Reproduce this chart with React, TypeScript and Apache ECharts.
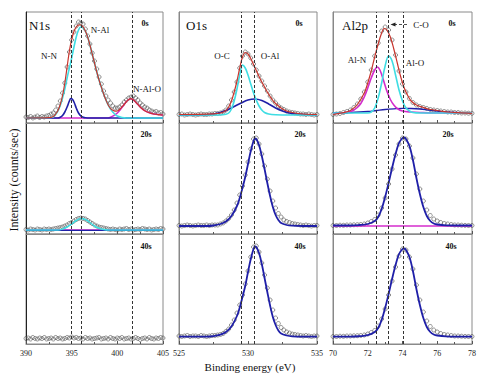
import React, { useEffect, useRef } from "react";
import * as echarts from "echarts";

// ---------- data (binding energy in eV, intensity in arbitrary units) ----------
const N_X = [390,390.25,390.5,390.75,391,391.25,391.5,391.75,392,392.25,392.5,392.75,393,393.25,393.5,393.75,394,394.25,394.5,394.75,395,395.25,395.5,395.75,396,396.25,396.5,396.75,397,397.25,397.5,397.75,398,398.25,398.5,398.75,399,399.25,399.5,399.75,400,400.25,400.5,400.75,401,401.25,401.5,401.75,402,402.25,402.5,402.75,403,403.25,403.5,403.75,404,404.25,404.5,404.75,405];
const O_X = [525,525.2,525.4,525.6,525.8,526,526.2,526.4,526.6,526.8,527,527.2,527.4,527.6,527.8,528,528.2,528.4,528.6,528.8,529,529.2,529.4,529.6,529.8,530,530.2,530.4,530.6,530.8,531,531.2,531.4,531.6,531.8,532,532.2,532.4,532.6,532.8,533,533.2,533.4,533.6,533.8,534,534.2,534.4,534.6,534.8,535];
const AL_X = [70,70.2,70.4,70.6,70.8,71,71.2,71.4,71.6,71.8,72,72.2,72.4,72.6,72.8,73,73.2,73.4,73.6,73.8,74,74.2,74.4,74.6,74.8,75,75.2,75.4,75.6,75.8,76,76.2,76.4,76.6,76.8,77,77.2,77.4,77.6,77.8,78];

const N_REF = [394.9, 396.1, 401.6];
const O_REF = [529.5, 530.45];
const AL_REF = [72.5, 73.2, 74.05];

// N1s 0s
const N0_PTS = [6,5.5,6.5,5,6,7,5.5,6.5,6,7,7.5,9,10,13,17,22,30,40,56,71,83,91,97,101,100,99,94,87,79,70,62,54,46,39,32,27,23,20,17,15,15,16,18,21,23,25,26,27,25,23,20,18,16,15,13,12,11,11.5,10,10.5,9];
const N0_NAL = [[390,5],[392.5,5.2],[393,6],[393.25,8.5],[393.5,12],[393.75,17.5],[394,25],[394.25,34],[394.5,45],[394.75,55],[395,65],[395.25,76],[395.5,86],[395.75,93],[396,96],[396.25,95],[396.5,92],[396.75,86],[397,78],[397.25,69],[397.5,60],[397.75,51],[398,43],[398.25,36],[398.5,29],[398.75,23],[399,18],[399.25,14],[399.5,11],[399.75,8.5],[400,7],[400.5,5.5],[401,5],[405,5]];
const N0_NN = [[390,5],[393.5,5],[393.75,5.8],[394,7.5],[394.25,11],[394.5,16],[394.75,22],[394.9,24.5],[395.1,23.5],[395.3,20],[395.5,15],[395.75,10],[396,7],[396.25,5.8],[396.5,5.2],[397,5],[405,5]];
const N0_NALO = [[390,5],[399,5],[399.25,5.7],[399.5,6.8],[399.75,8.3],[400,10],[400.25,12.5],[400.5,15.5],[400.75,18.5],[401,21.5],[401.25,23.5],[401.45,24.3],[401.7,23.5],[402,21],[402.25,18.5],[402.5,16],[402.75,14],[403,12.3],[403.5,10.2],[404,9],[404.5,8.4],[405,8]];
const N0_ENV = [[390,5],[392.5,5.3],[393,6.5],[393.25,9],[393.5,12.5],[393.75,18.5],[394,27.5],[394.25,40],[394.5,56],[394.75,72],[395,83.5],[395.25,91.5],[395.5,96],[395.75,98],[396,98],[396.25,96],[396.5,92],[396.75,86],[397,78],[397.25,69],[397.5,60],[397.75,51],[398,43],[398.25,36],[398.5,29],[398.75,23],[399,18],[399.25,14.7],[399.5,12.8],[399.75,11.8],[400,12],[400.25,13.5],[400.5,16],[400.75,18.5],[401,21.5],[401.25,23.5],[401.45,24.3],[401.7,23.5],[402,21],[402.5,16],[403,12.3],[403.5,10.2],[404,9],[404.5,8.4],[405,8]];

// N1s 20s
const N20_PTS = [4.5,4,5,4.5,4,5,4.5,4,5,4.5,5,4.5,5,5.5,6,6.5,7,8,9,10.5,11.5,13,14.5,15.5,16,15.5,15,13.5,12,10.5,9,8,7,6.5,6,5.5,5,4.5,5,4.5,4,5,4.5,5,5.5,4.5,5,4,4.5,5,4.5,5.5,5,4.5,5,4,4.5,5,4.5,5.5,5];
const N20_NAL = [[390,4],[393.5,4],[394,5],[394.5,7],[395,10],[395.5,13.5],[396,15.5],[396.5,14.5],[397,11.5],[397.5,8],[398,5.8],[398.5,4.6],[399,4.1],[405,4]];
const N20_MAG = [[390,4.2],[405,4.2]];
const N20_BLUE = [[390,3.6],[405,3.6]];

// N1s 40s
const N40_PTS = [5.5,6,5,6.5,5.5,5,6,5.5,6.5,5,5.5,6,5,6.5,5.5,6,5,5.5,6.5,6,7,6,6.5,5.5,6,5,6.5,5.5,6,5,5.5,6,6.5,5,5.5,6,5,6.5,5.5,5,6,5.5,6.5,5,5.5,6,5,5.5,6.5,5.5,4.5,5.5,6,5,6.5,5.5,5,6,5.5,6.5,6];

// O1s 0s
const O0_PTS = [8.5,9,8,8.5,9,8.5,8,8.5,9,8.5,8.5,9,9,9.5,9.5,10,11,13,17,23,31,41,55,67,71,69,65,59,53,47,42,37,32,27,23,20,17,15,13.5,12,11,10.5,10,9.5,9,9,8.5,9,8.5,8,8.5];
const O0_OC = [[525,8],[528,8],[528.4,8.8],[528.6,10],[528.8,14],[529,22],[529.2,34],[529.4,48],[529.6,58],[529.8,55],[530,48],[530.2,39],[530.4,30],[530.6,23],[530.8,17],[531,13],[531.2,10.5],[531.5,9],[532,8.3],[533,8],[535,8]];
const O0_OAL = [[525,8],[527,8.3],[527.5,9],[528,10.5],[528.5,13],[529,16.5],[529.5,20],[530,23],[530.5,24],[531,22.5],[531.5,19],[532,15],[532.5,12],[533,10],[533.5,9],[534,8.5],[535,8]];
const O0_ENV = [[525,8.5],[527.5,9.2],[528,10],[528.4,12.5],[528.6,16],[528.8,22],[529,31],[529.2,42],[529.4,55],[529.6,66],[529.8,70.5],[530,69],[530.2,64.5],[530.4,58.5],[530.6,52.5],[530.8,46.5],[531,41],[531.2,36],[531.4,31],[531.6,26.5],[531.8,22.5],[532,19.5],[532.4,15],[532.8,12],[533.2,10.5],[533.6,9.5],[534,9],[535,8.5]];

// O1s 20s
const O20_PTS = [8.5,8,8.5,9,8.5,8,8.5,9,8.5,8.5,9,8.5,9,9,9,10,11,13,15.5,19,24,31,39,48,59,72,85,95,96,90,80,68,55,43,33,26,20.5,17,14,12.5,11.5,10.5,10,9.5,9,8.5,9,8.5,8,8.5,8.5];
const O20_FIT = [[525,8],[527,8],[527.5,8.5],[528,10],[528.4,12.5],[528.8,18],[529.2,28],[529.4,36],[529.6,46],[529.8,57],[530,70],[530.2,83],[530.4,93],[530.5,95.5],[530.6,95],[530.8,89],[531,78],[531.2,65],[531.4,51],[531.6,38],[531.8,27],[532,19],[532.2,14],[532.4,11],[532.8,9],[533.2,8.3],[534,8],[535,8]];

// O1s 40s
const O40_PTS = [8,7.5,8,8.5,7.5,8,8,7.5,8.5,8,7.5,8,8.5,8.5,9,9.5,10.5,12.5,15,19,24,31,39,49,60,73,87,97,98,92,81,69,56,44,34,26,20.5,16.5,14,12,11,10,9.5,9,8.5,8,8.5,8,7.5,8,8];
const O40_FIT = [[525,7.3],[527,7.3],[527.5,7.8],[528,9.3],[528.4,12],[528.8,17.5],[529.2,28],[529.4,36.5],[529.6,47],[529.8,58],[530,72],[530.2,85],[530.4,95],[530.5,97.5],[530.6,97],[530.8,91],[531,80],[531.2,66],[531.4,52],[531.6,38.5],[531.8,27],[532,19],[532.2,13.5],[532.4,10.5],[532.8,8.5],[533.2,7.6],[534,7.3],[535,7.3]];

// Al2p 0s
const AL0_PTS = [8.5,9,9.5,10.5,11.5,13,15.5,19,24,31,41,53,67,80,92,96,93,83,68,52,39,31,24.5,20.5,18,16.5,15.5,14.5,13.5,13,12.5,12,11.5,11,11,10.5,10.5,10,10,9.8,9.7];
const AL0_ALN = [[70,9.5],[70.5,10],[71,11.5],[71.2,13],[71.4,15.5],[71.6,19.5],[71.8,26],[72,35],[72.2,45],[72.4,53],[72.55,56],[72.7,53],[72.9,43],[73.1,32],[73.3,23.5],[73.5,18],[73.7,14.5],[74,12],[74.5,11],[75,10.5],[76,10],[78,10]];
const AL0_ALO = [[70,10],[72,10],[72.2,11],[72.4,15],[72.6,25],[72.8,40],[73,57],[73.2,67],[73.4,62],[73.6,48],[73.8,33],[74,22],[74.2,15],[74.4,12],[74.6,10.5],[75,10],[78,10]];
const AL0_CO = [[70,10],[71,10.5],[72,11.5],[72.5,12.5],[73,13.5],[73.5,14.2],[74,14.7],[74.5,14.5],[75,14],[75.5,13],[76,12],[76.5,11],[77,10.5],[78,10]];
const AL0_ENV = [[70,8.5],[70.6,10.3],[71,12.5],[71.4,18.5],[71.8,30],[72,40],[72.2,52],[72.4,66],[72.6,79],[72.8,90],[72.95,94.5],[73.1,93],[73.3,86],[73.5,74],[73.7,60],[73.9,46],[74.1,35],[74.3,27.5],[74.5,22],[74.8,18],[75.2,15.5],[75.6,13.5],[76,12.5],[76.6,11],[77.2,10.3],[78,9.7]];

// Al2p 20s
const AL20_PTS = [8.5,8.5,8.8,8.7,9,9,9.2,9.3,9.5,10,11,12.5,14.5,19,26,36,50,65,79,90,96,95,88,76,60,45,33,24,18.5,15,13,11.5,10.5,10,9.5,9,9,8.8,8.6,8.5,8.5];
const AL20_FIT = [[70,8.5],[71,8.5],[71.5,9],[72,10],[72.4,13],[72.6,17],[72.8,25],[73,37],[73.2,51],[73.4,66],[73.6,80],[73.8,91],[74,96],[74.1,96.5],[74.2,95],[74.4,88],[74.6,74],[74.8,56],[75,40],[75.2,27],[75.4,18],[75.6,13],[75.8,10.5],[76,9.5],[76.5,8.7],[78,8.5]];
const AL20_MAG = [[70,8],[78,8]];

// Al2p 40s
const AL40_PTS = [7.5,7.5,7.8,7.7,8,8,8.2,8.3,8.5,9,10,11.5,13.5,18,25,35,49,63,77,88,95,94,87,75,59,44,32,23,17.5,14,12,10.5,9.5,9,8.5,8,8,7.8,7.6,7.5,7.5];
const AL40_FIT = [[70,7.3],[71,7.3],[71.5,7.8],[72,8.8],[72.4,12],[72.6,16],[72.8,24],[73,36],[73.2,50],[73.4,65],[73.6,79],[73.8,90],[74,95],[74.1,95.5],[74.2,94],[74.4,87],[74.6,73],[74.8,55],[75,39],[75.2,26],[75.4,17],[75.6,12],[75.8,9.5],[76,8.5],[76.5,7.6],[78,7.3]];

const X_TICKS_LABEL = "Binding energy (eV)";
const Y_LABEL = "Intensity (counts/sec)";

// ---------- styling ----------
const FONT = "Liberation Serif";
const RED = "#c8352d";
const CYAN = "#3fdde3";
const BLUE = "#1f1fa8";
const MAGENTA = "#d42ccc";

const COLS = [
  { left: 26, width: 137, min: 390, max: 405, interval: 5, ref: N_REF, axisColor: "#222" },
  { left: 179, width: 138, min: 525, max: 535, interval: 5, ref: O_REF, axisColor: "#888" },
  { left: 333, width: 139, min: 70, max: 78, interval: 2, ref: AL_REF, axisColor: "#888" },
];
const ROWS = [
  { top: 12, height: 111, max: 111 },
  { top: 123, height: 111, max: 111 },
  { top: 234, height: 110, max: 110 },
];

const pairs = (xs: number[], ys: number[]) => xs.map((x, i) => [x, ys[i]]);

const PANELS: { pts: number[][]; fits: [number[][], string, number][] }[] = [
  { pts: pairs(N_X, N0_PTS), fits: [[N0_NALO, MAGENTA, 1.5], [N0_NN, BLUE, 1.6], [N0_NAL, CYAN, 1.6], [N0_ENV, RED, 1.2]] },
  { pts: pairs(O_X, O0_PTS), fits: [[O0_OAL, BLUE, 1.6], [O0_OC, CYAN, 1.6], [O0_ENV, RED, 1.2]] },
  { pts: pairs(AL_X, AL0_PTS), fits: [[AL0_CO, BLUE, 1.3], [AL0_ALN, MAGENTA, 1.6], [AL0_ALO, CYAN, 1.6], [AL0_ENV, RED, 1.2]] },
  { pts: pairs(N_X, N20_PTS), fits: [[N20_MAG, MAGENTA, 1.3], [N20_BLUE, BLUE, 1.3], [N20_NAL, CYAN, 1.5]] },
  { pts: pairs(O_X, O20_PTS), fits: [[O20_FIT, BLUE, 1.8]] },
  { pts: pairs(AL_X, AL20_PTS), fits: [[AL20_MAG, MAGENTA, 1.4], [AL20_FIT, BLUE, 1.8]] },
  { pts: pairs(N_X, N40_PTS), fits: [] },
  { pts: pairs(O_X, O40_PTS), fits: [[O40_FIT, BLUE, 1.8]] },
  { pts: pairs(AL_X, AL40_PTS), fits: [[AL40_FIT, BLUE, 1.8]] },
];

const LABELS: { t: string; x: number; y: number; s: number; w?: string; a?: string }[] = [
  { t: "N1s", x: 29, y: 25, s: 13, a: "left" },
  { t: "O1s", x: 186, y: 25, s: 13, a: "left" },
  { t: "Al2p", x: 342, y: 25, s: 13, a: "left" },
  { t: "0s", x: 145, y: 23, s: 8, w: "bold" },
  { t: "0s", x: 299, y: 23, s: 8, w: "bold" },
  { t: "0s", x: 452, y: 23, s: 8, w: "bold" },
  { t: "20s", x: 146, y: 134, s: 8, w: "bold" },
  { t: "20s", x: 300, y: 134, s: 8, w: "bold" },
  { t: "20s", x: 448, y: 134, s: 8, w: "bold" },
  { t: "40s", x: 146, y: 246, s: 8, w: "bold" },
  { t: "40s", x: 300, y: 246, s: 8, w: "bold" },
  { t: "40s", x: 451, y: 246, s: 8, w: "bold" },
  { t: "N-N", x: 49, y: 56, s: 9 },
  { t: "N-Al", x: 100, y: 30, s: 9 },
  { t: "N-Al-O", x: 147, y: 89, s: 9 },
  { t: "O-C", x: 222, y: 55.5, s: 9 },
  { t: "O-Al", x: 270, y: 55.5, s: 9 },
  { t: "C-O", x: 421, y: 25, s: 9 },
  { t: "Al-N", x: 357, y: 60, s: 9 },
  { t: "Al-O", x: 415, y: 63, s: 9 },
];

export default function App() {
  const ref = useRef<HTMLDivElement>(null);
  useEffect(() => {
    if (!ref.current) return;
    const chart = echarts.init(ref.current, undefined, { renderer: "svg" });
    const grid: any[] = [];
    const xAxis: any[] = [];
    const yAxis: any[] = [];
    const series: any[] = [];
    ROWS.forEach((row, r) => {
      COLS.forEach((col, c) => {
        const i = r * 3 + c;
        grid.push({
          left: col.left, top: row.top, width: col.width, height: row.height,
          show: true, borderColor: "#8a8a8a", borderWidth: 1, backgroundColor: "transparent",
        });
        xAxis.push({
          type: "value", gridIndex: i, min: col.min, max: col.max, interval: col.interval,
          axisLine: { show: true, lineStyle: { color: "#8a8a8a", width: 1 } },
          axisTick: { show: true, inside: true, length: 3, lineStyle: { color: "#555" } },
          minorTick: { show: true, splitNumber: 2, length: 2, lineStyle: { color: "#555" } },
          splitLine: { show: false },
          axisLabel: {
            show: r === 2, fontFamily: FONT, fontSize: 8, color: "#222", margin: 5,
            showMinLabel: true, showMaxLabel: true,
          },
        });
        yAxis.push({
          type: "value", gridIndex: i, min: 0, max: row.max,
          axisLine: { show: true, lineStyle: { color: col.axisColor, width: 1 } },
          axisTick: { show: false }, axisLabel: { show: false }, splitLine: { show: false },
        });
        const p = PANELS[i];
        p.fits.forEach(([data, color, w]) => {
          series.push({
            type: "line", xAxisIndex: i, yAxisIndex: i, data, smooth: 0.35,
            showSymbol: false, silent: true, lineStyle: { color, width: w },
          });
        });
        series.push({
          type: "scatter", xAxisIndex: i, yAxisIndex: i, data: p.pts,
          symbol: "circle", symbolSize: 4, silent: true,
          itemStyle: { color: "rgba(255,255,255,0)", borderColor: "#555", borderWidth: 0.8 },
          markLine: {
            silent: true, symbol: ["none", "none"], label: { show: false },
            lineStyle: { color: "#333", type: [3, 2], width: 1 },
            data: col.ref.map((v) => ({ xAxis: v })),
          },
        });
      });
    });

    const graphic: any[] = LABELS.map((l) => ({
      type: "text", x: l.x, y: l.y,
      style: {
        text: l.t, fontFamily: FONT, fontSize: l.s, fontWeight: l.w || "normal",
        fill: "#111", textAlign: l.a || "center", textVerticalAlign: "middle",
      },
    }));
    graphic.push({
      type: "text", x: 14, y: 180, rotation: Math.PI / 2,
      style: { text: Y_LABEL, fontFamily: FONT, fontSize: 12, fill: "#111", textAlign: "center", textVerticalAlign: "middle" },
    });
    graphic.push({
      type: "text", x: 250, y: 367,
      style: { text: X_TICKS_LABEL, fontFamily: FONT, fontSize: 11, fill: "#111", textAlign: "center", textVerticalAlign: "middle" },
    });
    graphic.push({
      type: "line", shape: { x1: 394, y1: 24.5, x2: 409, y2: 24.5 },
      style: { stroke: "#222", lineWidth: 0.8, lineDash: [3, 2] },
    });
    graphic.push({
      type: "polygon", shape: { points: [[390.5, 24.5], [395.5, 22.5], [395.5, 26.5]] },
      style: { fill: "#222" },
    });

    chart.setOption({ animation: false, grid, xAxis, yAxis, series, graphic });
    return () => chart.dispose();
  }, []);
  return <div ref={ref} style={{ position: "absolute", left: 0, top: 0, width: 486, height: 379 }} />;
}
